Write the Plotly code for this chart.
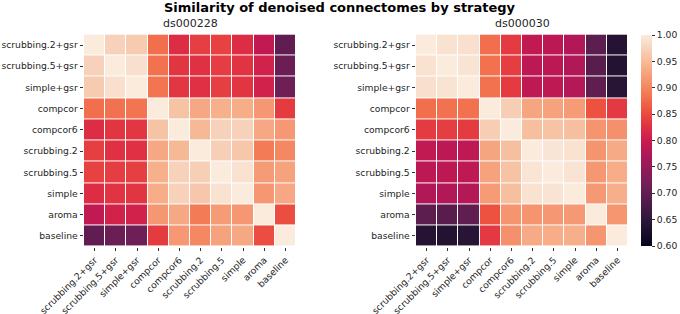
import plotly.graph_objects as go

strategies = ["scrubbing.2+gsr", "scrubbing.5+gsr", "simple+gsr", "compcor", "compcor6",
              "scrubbing.2", "scrubbing.5", "simple", "aroma", "baseline"]

ds000228 = [
    [1.000, 0.972, 0.966, 0.880, 0.822, 0.840, 0.842, 0.822, 0.790, 0.700],
    [0.972, 1.000, 0.988, 0.882, 0.830, 0.826, 0.838, 0.828, 0.808, 0.708],
    [0.966, 0.988, 1.000, 0.884, 0.832, 0.826, 0.840, 0.830, 0.808, 0.712],
    [0.880, 0.882, 0.884, 1.000, 0.958, 0.932, 0.940, 0.936, 0.916, 0.836],
    [0.822, 0.830, 0.832, 0.958, 1.000, 0.948, 0.972, 0.972, 0.932, 0.917],
    [0.840, 0.826, 0.826, 0.932, 0.948, 1.000, 0.970, 0.962, 0.890, 0.902],
    [0.842, 0.838, 0.840, 0.940, 0.972, 0.970, 1.000, 0.990, 0.920, 0.926],
    [0.822, 0.828, 0.830, 0.936, 0.972, 0.962, 0.990, 1.000, 0.916, 0.932],
    [0.790, 0.808, 0.808, 0.916, 0.932, 0.890, 0.920, 0.916, 1.000, 0.853],
    [0.700, 0.708, 0.712, 0.836, 0.917, 0.902, 0.926, 0.932, 0.853, 1.000],
]

ds000030 = [
    [1.000, 0.990, 0.988, 0.880, 0.835, 0.790, 0.786, 0.776, 0.695, 0.640],
    [0.990, 1.000, 0.992, 0.882, 0.838, 0.786, 0.786, 0.776, 0.692, 0.638],
    [0.988, 0.992, 1.000, 0.882, 0.836, 0.788, 0.788, 0.778, 0.698, 0.642],
    [0.880, 0.882, 0.882, 1.000, 0.968, 0.930, 0.926, 0.920, 0.856, 0.834],
    [0.835, 0.838, 0.836, 0.968, 1.000, 0.955, 0.958, 0.955, 0.914, 0.910],
    [0.790, 0.786, 0.788, 0.930, 0.955, 1.000, 0.994, 0.990, 0.914, 0.934],
    [0.786, 0.786, 0.788, 0.926, 0.958, 0.994, 1.000, 0.992, 0.916, 0.936],
    [0.776, 0.776, 0.778, 0.920, 0.955, 0.990, 0.992, 1.000, 0.918, 0.938],
    [0.695, 0.692, 0.698, 0.856, 0.914, 0.914, 0.916, 0.918, 1.000, 0.915],
    [0.640, 0.638, 0.642, 0.834, 0.910, 0.934, 0.936, 0.938, 0.915, 1.000],
]

colorbar_ticks = [0.60, 0.65, 0.70, 0.75, 0.80, 0.85, 0.90, 0.95, 1.00]

rocket = [
    [0.0, "#03051a"], [1 / 7, "#35193e"], [2 / 7, "#701f57"], [3 / 7, "#ad1759"],
    [0.5, "#cb1b4f"], [4 / 7, "#e13342"], [9 / 14, "#ed5240"], [5 / 7, "#f37651"],
    [6 / 7, "#f6b48f"], [0.93, "#f7d1b9"], [1.0, "#faebdd"],
]

W, H = 680, 314
top_px, bot_px = 34.4, 246.6
y0, y1 = 1 - bot_px / H, 1 - top_px / H

FONT = "DejaVu Sans"
TXT = "#262626"

fig = go.Figure()
fig.add_trace(go.Heatmap(z=ds000228, x=strategies, y=strategies, colorscale=rocket,
                         zmin=0.6, zmax=1.0, xgap=1, ygap=1, showscale=False,
                         xaxis="x", yaxis="y"))
fig.add_trace(go.Heatmap(z=ds000030, x=strategies, y=strategies, colorscale=rocket,
                         zmin=0.6, zmax=1.0, xgap=1, ygap=1, showscale=True,
                         xaxis="x2", yaxis="y2",
                         colorbar=dict(x=641 / W, xanchor="left", y=1 - 35 / H, yanchor="top",
                                       len=211, lenmode="pixels",
                                       thickness=11, thicknessmode="pixels",
                                       outlinewidth=0, xpad=0, ypad=0,
                                       tickvals=colorbar_ticks, tickformat=".2f",
                                       ticks="outside", ticklen=3.5, tickcolor="#333",
                                       tickfont=dict(family=FONT, size=9.2, color=TXT))))

axcommon = dict(type="category", showgrid=False, zeroline=False, showline=False,
                automargin=False,
                ticks="outside", ticklen=3.5, tickwidth=0.8, tickcolor="#333",
                tickfont=dict(family=FONT, size=9.2, color=TXT))

fig.update_layout(
    width=W, height=H, margin=dict(l=0, r=0, t=0, b=0, autoexpand=False),
    paper_bgcolor="white", plot_bgcolor="white",
    xaxis=dict(domain=[84 / W, 296 / W], anchor="y", tickangle=-45, **axcommon),
    yaxis=dict(domain=[y0, y1], anchor="x", autorange="reversed", **axcommon),
    xaxis2=dict(domain=[416 / W, 628 / W], anchor="y2", tickangle=-45, **axcommon),
    yaxis2=dict(domain=[y0, y1], anchor="x2", autorange="reversed", **axcommon),
    annotations=[
        dict(text="<b>Similarity of denoised connectomes by strategy</b>", x=340 / W, y=1 - 8 / H,
             xref="paper", yref="paper", xanchor="center", yanchor="middle", showarrow=False,
             font=dict(family=FONT, size=13, color="black")),
        dict(text="ds000228", x=190 / W, y=1 - 24 / H, xref="paper", yref="paper",
             xanchor="center", yanchor="middle", showarrow=False,
             font=dict(family=FONT, size=11, color=TXT)),
        dict(text="ds000030", x=522 / W, y=1 - 24 / H, xref="paper", yref="paper",
             xanchor="center", yanchor="middle", showarrow=False,
             font=dict(family=FONT, size=11, color=TXT)),
    ],
)

fig.write_html("out.html", config={"displayModeBar": False},
               post_script="document.body.style.margin='0';document.body.style.overflow='hidden';")
